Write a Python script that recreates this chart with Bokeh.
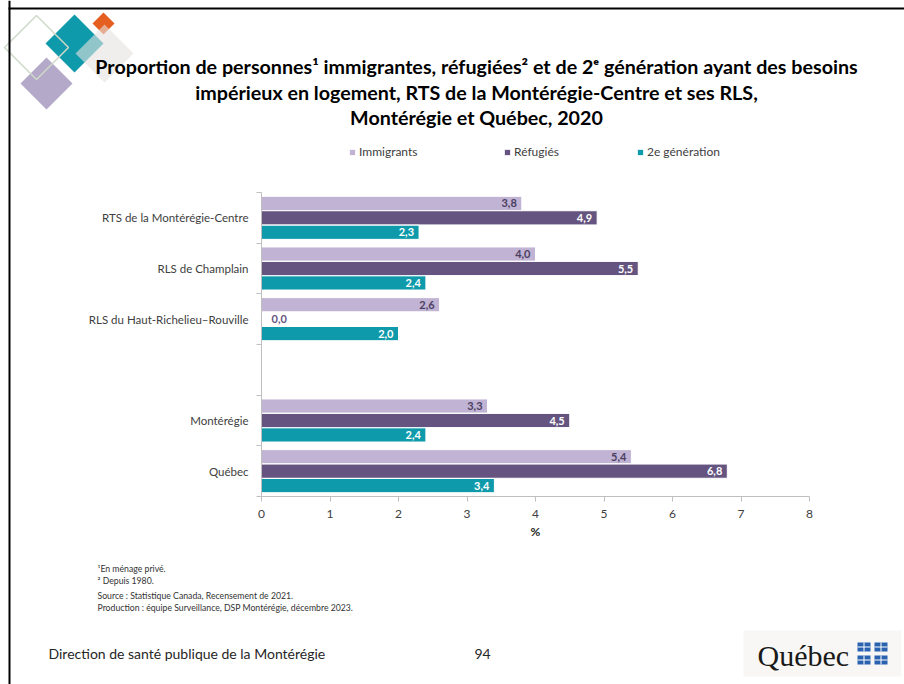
from bokeh.plotting import figure
from bokeh.models import (Range1d, FixedTicker, Legend, LegendItem, ColumnDataSource,
                          LinearAxis)
from bokeh.core.properties import value
from bokeh.embed import file_html
from bokeh.resources import INLINE

# ---------------- data ----------------
categories = ["RTS de la Montérégie-Centre", "RLS de Champlain",
              "RLS du Haut-Richelieu–Rouville", "", "Montérégie", "Québec"]
series_names = ["Immigrants", "Réfugiés", "2e génération"]
immigrants = [3.8, 4.0, 2.6, None, 3.3, 5.4]
refugies = [4.9, 5.5, 0.0, None, 4.5, 6.8]
deuxieme_gen = [2.3, 2.4, 2.0, None, 2.4, 3.4]
x_ticks = [0, 1, 2, 3, 4, 5, 6, 7, 8]
x_min, x_max = 0, 8

title_lines = [
    "Proportion de personnes¹ immigrantes, réfugiées² et de 2ᵉ génération ayant des besoins",
    "impérieux en logement, RTS de la Montérégie-Centre et ses RLS,",
    "Montérégie et Québec, 2020",
]
notes = ["¹En ménage privé.", "² Depuis 1980.",
         "Source : Statistique Canada, Recensement de 2021.",
         "Production : équipe Surveillance, DSP Montérégie, décembre 2023."]
footer_text = "Direction de santé publique de la Montérégie"
page_number = "94"

FONT = "Lato"
colors = ["#C0B3D4", "#65547F", "#0E9AAB"]
label_colors = ["#4B3F62", "#FFFFFF", "#FFFFFF"]

# ---------------- page geometry (pixels) ----------------
W, H = 904, 684
PLOT_L, PLOT_R, PLOT_T, PLOT_B = 261, 809, 192, 496
n = len(categories)
sx = (PLOT_R - PLOT_L) / (x_max - x_min)
sy = (PLOT_B - PLOT_T) / n
x_range = Range1d(x_min - PLOT_L / sx, x_min + (W - PLOT_L) / sx)
y_range = Range1d((H - PLOT_T) / sy, -PLOT_T / sy)   # inverted: slot 0 on top

p = figure(width=W, height=H, output_backend="svg", toolbar_location=None,
           x_range=x_range, y_range=y_range, x_axis_type=None, y_axis_type=None,
           min_border=0)
p.outline_line_color = None
p.background_fill_color = "white"
p.border_fill_color = "white"
p.extra_x_ranges = {"px": Range1d(0, W)}
p.extra_y_ranges = {"px": Range1d(H, 0)}
PX = dict(x_range_name="px", y_range_name="px")

# ---------------- slide decoration ----------------
p.quad(left=8, right=W, top=7, bottom=9, fill_color="black", line_color=None, **PX)


def diamond(cx, cy, h):
    return [cx, cx + h, cx, cx - h], [cy - h, cy, cy + h, cy]


for (cx, cy, h, fc, fa) in [(46, 83, 26, "#B4A9C9", 1.0),
                            (74, 43, 29, "#0F9AAB", 1.0),
                            (103, 23, 11, "#E45F20", 1.0),
                            (104, 53, 29, "#E6E2DF", 0.6)]:
    xs, ys = diamond(cx, cy, h)
    p.patch(xs, ys, fill_color=fc, fill_alpha=fa, line_color=None, **PX)
xs, ys = diamond(36, 47, 32)
p.line(xs + [xs[0]], ys + [ys[0]], line_color="#CFD9C8", line_width=1.5, **PX)
p.quad(left=8, right=10, top=0, bottom=H, fill_color="black", line_color=None, **PX)

p.text(x=[476, 476, 476], y=[66, 92, 117], text=title_lines, text_align="center",
       text_baseline="middle", text_font=value(FONT), text_font_style="bold",
       text_font_size=value("19.7px"), text_color="#000000", **PX)

# ---------------- bars ----------------
series = [immigrants, refugies, deuxieme_gen]
offsets = [-0.285, 0.0, 0.285]
renderers = []
for k, vals in enumerate(series):
    ys_, vs, lbl, al, xo, tc = [], [], [], [], [], []
    for i, v in enumerate(vals):
        if v is None:
            continue
        ys_.append(i + 0.5 + offsets[k])
        vs.append(v)
        lbl.append(f"{v:.1f}".replace(".", ","))
        if v == 0:
            al.append("left"); xo.append(10); tc.append("#65547F")
        else:
            al.append("right"); xo.append(-5); tc.append(label_colors[k])
    src = ColumnDataSource(dict(y=ys_, v=vs, lbl=lbl, al=al, xo=xo, tc=tc))
    r = p.hbar(y="y", left=0, right="v", height=0.28, source=src,
               fill_color=colors[k], line_color="white", line_width=1)
    renderers.append(r)
    p.text(x="v", y="y", text="lbl", source=src, text_align="al", x_offset="xo",
           text_baseline="middle", text_color="tc", text_font=value(FONT),
           text_font_style="bold", text_font_size=value("11px"))

# ---------------- axes (fixed inside the full-page frame) ----------------
xa = LinearAxis(fixed_location=n, bounds=(x_min, x_max), ticker=FixedTicker(ticks=x_ticks))
xa.axis_line_color = "#BFBFBF"
xa.major_tick_line_color = "#BFBFBF"
xa.major_tick_out = 5
xa.major_tick_in = 0
xa.minor_tick_line_color = None
xa.major_label_text_font = FONT
xa.major_label_text_font_size = "12px"
xa.major_label_text_color = "#404040"
xa.major_label_standoff = 8
xa.axis_label = "%"
xa.axis_label_text_font = FONT
xa.axis_label_text_font_style = "bold"
xa.axis_label_text_font_size = "12px"
xa.axis_label_text_color = "#262626"
xa.axis_label_standoff = 3
p.add_layout(xa, "below")

centers = [i + 0.5 for i in range(n)]
bounds = [float(i) for i in range(n + 1)]
ya = LinearAxis(fixed_location=x_min, bounds=(0, n),
                ticker=FixedTicker(ticks=centers, minor_ticks=bounds))
ya.major_label_overrides = {c: name for c, name in zip(centers, categories)}
ya.axis_line_color = "#BFBFBF"
ya.major_tick_line_color = None
ya.major_tick_out = 0
ya.major_tick_in = 0
ya.minor_tick_line_color = "#BFBFBF"
ya.minor_tick_out = 5
ya.minor_tick_in = 0
ya.major_label_text_font = FONT
ya.major_label_text_font_size = "11.5px"
ya.major_label_text_color = "#404040"
ya.major_label_standoff = 8
p.add_layout(ya, "left")

# ---------------- legend ----------------
leg_x = [348, 503, 636]
for k in range(3):
    lg = Legend(items=[LegendItem(label=series_names[k], renderers=[renderers[k]])],
                location=(leg_x[k], H - 159), orientation="horizontal",
                glyph_width=8, glyph_height=8, label_height=10, label_standoff=3,
                padding=0, margin=0, border_line_color=None,
                background_fill_alpha=0, label_text_font=FONT,
                label_text_font_size="12px", label_text_color="#404040")
    p.add_layout(lg, "center")

# ---------------- notes and footer ----------------
p.text(x=[97] * 4, y=[568, 580, 595, 607], text=notes, text_baseline="middle",
       text_font=value(FONT), text_font_size=value("8.7px"), text_color="#333333", **PX)
p.text(x=[48], y=[653], text=[footer_text], text_baseline="middle",
       text_font=value(FONT), text_font_size=value("14px"), text_color="#262626", **PX)
p.text(x=[482], y=[653], text=[page_number], text_align="center", text_baseline="middle",
       text_font=value(FONT), text_font_size=value("14px"), text_color="#262626", **PX)

# Québec signature
p.quad(left=743, right=901, top=630, bottom=676, fill_color="#F9F7F5", line_color=None, **PX)
p.text(x=[757], y=[655], text=["Québec"], text_baseline="middle",
       text_font=value("Liberation Serif"), text_font_size=value("30px"),
       text_color="#1A1A1A", **PX)
fl, fr, ft, fb = [], [], [], []
for fx in (857, 874):
    for fy in (642, 655):
        fl.append(fx); fr.append(fx + 13); ft.append(fy); fb.append(fy + 9)
p.quad(left=fl, right=fr, top=ft, bottom=fb, fill_color="#2A62B0", line_color=None, **PX)
p.quad(left=[x + 6 for x in fl], right=[x + 7 for x in fl], top=ft, bottom=fb,
       fill_color="white", line_color=None, **PX)
p.quad(left=fl, right=fr, top=[y + 4 for y in ft], bottom=[y + 5 for y in ft],
       fill_color="white", line_color=None, **PX)

open("out.html", "w").write(file_html(p, INLINE))
